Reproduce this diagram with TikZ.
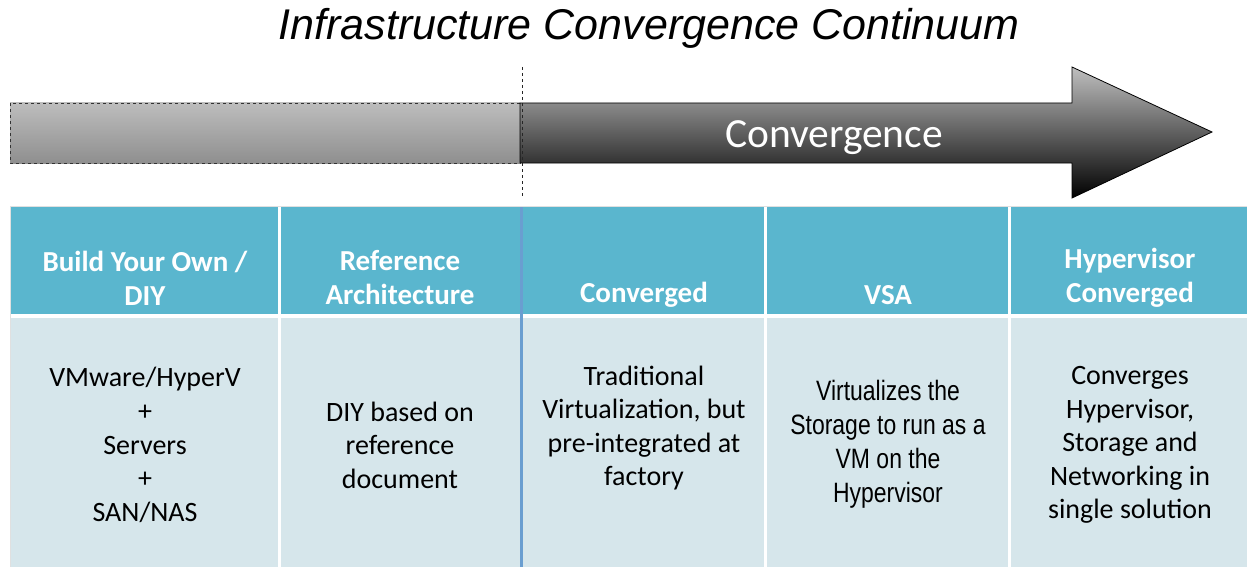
\documentclass[tikz,border=0pt]{standalone}
\usepackage{fontspec}
\setmainfont{Carlito}
\newfontfamily\titlefont{Liberation Sans}
\newfontfamily\narrowfont[FakeStretch=0.82]{Liberation Sans}
\definecolor{headteal}{HTML}{5AB6CE}
\definecolor{bodyblue}{HTML}{D6E6EB}
\definecolor{divblue}{HTML}{6A9ED0}
\tikzset{
  headcell/.style={fill=headteal, draw=none},
  bodycell/.style={fill=bodyblue, draw=none},
  headtext/.style={text=white, font=\fontsize{29}{34}\selectfont\bfseries, align=center, inner sep=0pt},
  bodytext/.style={text=black, font=\fontsize{28}{33.6}\selectfont, align=center, inner sep=0pt},
}
\begin{document}
\begin{tikzpicture}[x=1pt,y=-1pt]
\useasboundingbox (0,0) rectangle (1247,567);
% title
\node[font=\titlefont\itshape\fontsize{43}{50}\selectfont, inner sep=0pt] (title) at (649,28) {Infrastructure Convergence Continuum};
% left gray bar
\path[top color=black!26, bottom color=black!44, draw=black!80, dashed, line width=0.8pt] (10,103) rectangle (520,163);
% dark arrow
\path[top color=black!25, bottom color=black, draw=black, line width=0.8pt]
  (520,103) -- (1072,103) -- (1072,67) -- (1212,132) -- (1072,198) -- (1072,163) -- (520,163) -- cycle;
\node[text=white, font=\fontsize{41.5}{46}\selectfont, inner sep=0pt] (conv) at (834,138) {Convergence};
% dashed divider
\coordinate (dtop) at (522,67);
\coordinate (dbot) at (522,197);
\draw[dashed, line width=0.8pt, black!85] (dtop) -- (dbot);
% table frame
\draw[black!12, line width=1pt] (10,206) rectangle (1247,568);
% header cells
\path[headcell] (11,207) rectangle (278,314);
\path[headcell] (281,207) rectangle (520,314);
\path[headcell] (523,207) rectangle (764,314);
\path[headcell] (767,207) rectangle (1008,314);
\path[headcell] (1011,207) rectangle (1247,314);
% body cells
\path[bodycell] (11,318) rectangle (278,567);
\path[bodycell] (281,318) rectangle (520,567);
\path[bodycell] (523,318) rectangle (764,567);
\path[bodycell] (767,318) rectangle (1008,567);
\path[bodycell] (1011,318) rectangle (1247,567);
% blue divider
\coordinate (btop) at (521.5,207);
\coordinate (bbot) at (521.5,567);
\draw[divblue, line width=3pt] (btop) -- (bbot);
% header texts
\node[headtext] (h1) at (145,278) {Build Your Own /\\DIY};
\node[headtext] (h2) at (400,278) {Reference\\Architecture};
\node[headtext] (h3) at (644,295) {Converged};
\node[headtext] (h4) at (888,295) {VSA};
\node[headtext] (h5) at (1130,278) {Hypervisor\\Converged};
% body texts
\node[bodytext] (b1) at (145,445) {VMware/HyperV\\+\\Servers\\+\\SAN/NAS};
\node[bodytext] (b2) at (400,445) {DIY based on\\reference\\document};
\node[bodytext] (b3) at (644,428) {Traditional\\Virtualization, but\\pre-integrated at\\factory};
\node[bodytext, font=\narrowfont\fontsize{28}{34}\selectfont] (b4) at (888,444) {Virtualizes the\\Storage to run as a\\VM on the\\Hypervisor};
\node[bodytext] (b5) at (1130,445) {Converges\\Hypervisor,\\Storage and\\Networking in\\single solution};
\end{tikzpicture}
\end{document}
